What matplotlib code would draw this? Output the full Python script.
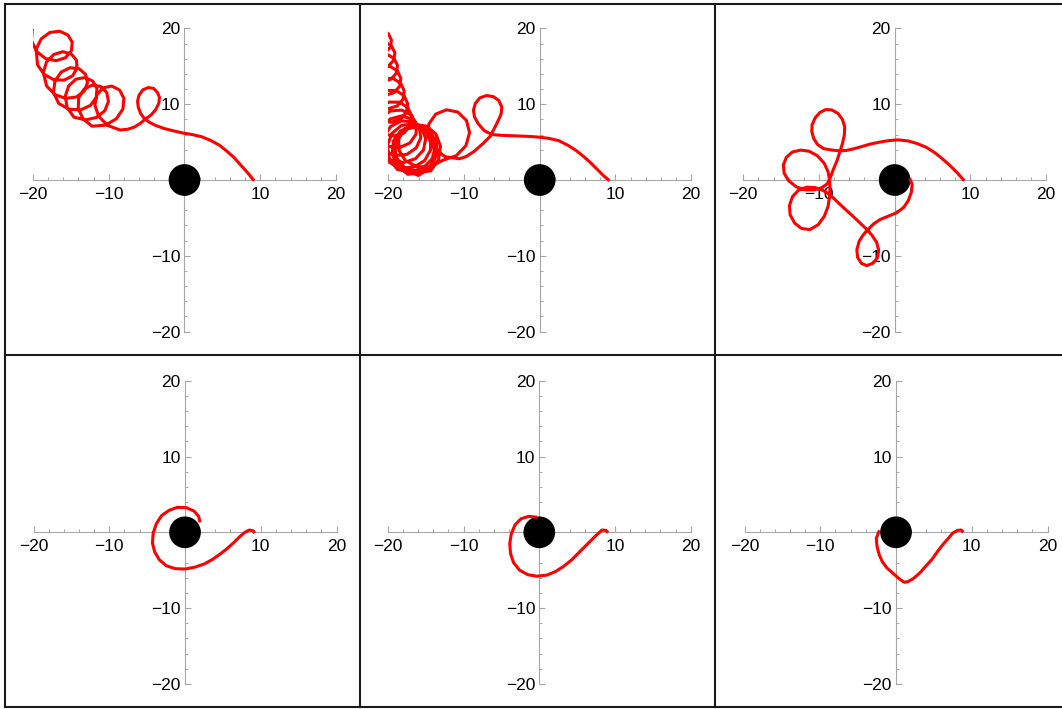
import matplotlib
matplotlib.use("Agg")
import matplotlib.pyplot as plt
from matplotlib.patches import Circle
from matplotlib.lines import Line2D

# ---------------- data ----------------
p1_x = [9.2, 8.3, 7.4, 6.5, 5.6, 4.6, 3.5, 2.3, 1.0, -0.2, -1.5, -2.7, -3.8, -4.6, -5.3,
        -5.8, -6.1, -6.2, -6.0, -5.5, -4.8, -4.1, -3.6, -3.3, -3.4, -3.8, -4.4, -5.1, -5.8, -6.6, -7.5, -8.5,
        -10.15, -11.33, -11.83, -11.57, -10.73, -9.60, -8.57, -8.00, -8.13, -8.99, -10.45, -12.2,
        -13.41, -14.03, -13.96, -13.27, -12.19, -11.07, -10.27, -10.04, -10.51, -11.61, -13.08, -14.6,
        -15.50, -15.74, -15.29, -14.33, -13.15, -12.12, -11.56, -11.65, -12.43, -13.72, -15.23, -16.6,
        -17.30, -17.09, -16.28, -15.11, -13.91, -13.06, -12.80, -13.23, -14.28, -15.69, -17.11, -18.2,
        -18.64, -18.21, -17.26, -16.06, -14.95, -14.26, -14.19, -14.78, -15.90, -17.27, -18.54, -19.4,
        -19.59, -18.92, -17.78, -16.48, -15.40, -14.82, -14.93, -15.70, -16.95, -18.34, -19.53, -20.2,
        -20.09, -19.35]
p1_y = [-0.1, 1.0, 2.0, 3.0, 3.8, 4.6, 5.2, 5.7, 6.0, 6.2, 6.5, 6.8, 7.2, 7.6, 8.1,
        8.8, 9.6, 10.4, 11.2, 11.9, 12.2, 12.1, 11.6, 10.9, 10.1, 9.3, 8.6, 8.1, 7.5, 7.0, 6.7, 6.6,
        7.20, 8.40, 9.88, 11.25, 12.17, 12.40, 11.88, 10.77, 9.38, 8.08, 7.24, 7.1,
        8.09, 9.47, 10.89, 11.99, 12.52, 12.35, 11.56, 10.38, 9.16, 8.26, 7.93, 8.3,
        9.58, 11.07, 12.42, 13.31, 13.53, 13.07, 12.09, 10.89, 9.84, 9.26, 9.34, 10.1,
        11.58, 13.08, 14.25, 14.82, 14.69, 13.95, 12.85, 11.74, 10.96, 10.77, 11.28, 12.4,
        14.19, 15.59, 16.57, 16.94, 16.64, 15.81, 14.73, 13.75, 13.18, 13.24, 13.96, 15.2,
        17.27, 18.63, 19.48, 19.64, 19.15, 18.18, 17.06, 16.15, 15.75, 16.03, 16.98, 18.4,
        19.91, 21.18]

p2_x = [9.2, 8.4, 7.6, 6.7, 5.8, 4.8, 3.7, 2.5, 1.2, 0.0, -1.3, -2.6, -3.9, -5.1, -6.3,
        -7.3, -8.1, -8.6, -8.75, -8.5, -7.9, -7.0, -6.1, -5.4, -5.0, -5.1, -5.5, -6.0, -6.5, -7.5, -8.7, -9.7, -10.6,
        -12.47, -13.96, -14.74, -14.63, -13.72, -12.30, -10.80, -9.67, -9.26, -9.74, -11.01, -12.8,
        -14.42, -16.21, -17.72, -18.58, -18.61, -17.82, -16.46, -14.94, -13.70, -13.10, -13.35, -14.4,
        -16.18, -17.82, -18.92, -19.21, -18.66, -17.45, -15.93, -14.56, -13.73, -13.70, -14.52, -16.0,
        -17.66, -18.82, -19.19, -18.71, -17.54, -16.02, -14.59, -13.67, -13.53, -14.24, -15.65, -17.4,
        -18.79, -19.47, -19.31, -18.36, -16.92, -15.41, -14.25, -13.80, -14.20, -15.38, -17.05, -18.8,
        -19.86, -20.11, -19.51, -18.26, -16.71, -15.30, -14.45, -14.40, -15.19, -16.65, -18.40, -20.0,
        -20.70, -20.58, -19.68, -18.28, -16.78, -15.58, -15.05, -15.34, -16.40, -17.97, -19.64, -21.0,
        -21.33, -20.86, -19.73, -18.26, -16.86, -15.91, -15.70, -16.29, -17.54, -19.13, -20.64, -21.7,
        -21.71, -20.97, -19.69, -18.22, -16.97, -16.27, -16.33, -17.14, -18.48, -20.02, -21.34, -22.1,
        -21.96, -21.15, -19.89, -18.52, -17.42, -16.88, -17.07, -17.92, -19.22, -20.63, -21.78, -22.35,
        -22.22, -21.45, -20.26, -18.97, -17.93, -17.43, -17.60, -18.41, -19.64, -20.98, -22.06, -22.6,
        -22.48, -21.74, -20.60, -19.36, -18.36, -17.88, -18.05, -18.82, -20.01, -21.29, -22.33, -22.85,
        -22.73, -22.03, -20.93, -19.74, -18.79, -18.33, -18.49, -19.24, -20.37, -21.6, -22.6, -23.1,
        -22.99, -22.31, -21.26, -20.13, -19.22, -18.77, -18.93, -19.65, -20.74, -21.91, -22.87, -23.35,
        -23.24, -22.58, -21.56, -20.45, -19.55, -19.12, -19.28, -19.98, -21.04, -22.19, -23.13, -23.6,
        -23.50, -22.87, -21.89, -20.83, -19.98, -19.57, -19.72, -20.39, -21.41, -22.51, -23.40, -23.85,
        -23.75, -23.16, -22.23, -21.22, -20.41, -20.02]
p2_y = [-0.1, 0.6, 1.4, 2.3, 3.1, 3.9, 4.6, 5.2, 5.5, 5.65, 5.75, 5.8, 5.85, 5.9, 6.0,
        6.5, 7.4, 8.3, 9.2, 10.1, 10.85, 11.15, 11.0, 10.5, 9.6, 8.7, 7.8, 6.8, 5.8, 4.8, 3.75, 3.1, 2.8,
        3.07, 4.15, 5.74, 7.41, 8.70, 9.27, 8.97, 7.86, 6.24, 4.54, 3.21, 2.6,
        1.75, 1.75, 2.55, 3.92, 5.46, 6.72, 7.34, 7.11, 6.07, 4.46, 2.70, 1.2,
        0.99, 1.63, 2.92, 4.52, 5.98, 6.89, 7.00, 6.27, 4.87, 3.17, 1.61, 0.6,
        1.21, 2.51, 4.16, 5.72, 6.77, 7.04, 6.45, 5.18, 3.55, 2.02, 0.99, 0.75,
        1.87, 3.48, 5.16, 6.49, 7.11, 6.88, 5.87, 4.37, 2.79, 1.58, 1.06, 1.4,
        2.84, 4.57, 6.16, 7.19, 7.43, 6.82, 5.55, 3.98, 2.56, 1.69, 1.62, 2.4,
        3.99, 5.69, 7.07, 7.80, 7.70, 6.83, 5.46, 3.97, 2.81, 2.30, 2.62, 3.7,
        5.35, 6.94, 8.06, 8.46, 8.05, 6.99, 5.58, 4.25, 3.38, 3.23, 3.89, 5.2,
        6.83, 8.26, 9.12, 9.23, 8.59, 7.41, 6.04, 4.89, 4.29, 4.45, 5.35, 6.8,
        8.33, 9.59, 10.29, 10.27, 9.58, 8.44, 7.19, 6.21, 5.80, 6.10, 7.08, 8.5,
        9.95, 11.15, 11.82, 11.81, 11.16, 10.09, 8.92, 8.01, 7.62, 7.92, 8.85, 10.2,
        11.60, 12.76, 13.41, 13.40, 12.79, 11.76, 10.65, 9.77, 9.41, 9.70, 10.59, 11.9,
        13.25, 14.37, 14.99, 14.99, 14.41, 13.43, 12.37, 11.53, 11.19, 11.48, 12.34, 13.6,
        14.90, 15.97, 16.58, 16.59, 16.03, 15.11, 14.09, 13.30, 12.98, 13.25, 14.09, 15.3,
        16.57, 17.63, 18.22, 18.23, 17.69, 16.79, 15.80, 15.03, 14.72, 14.99, 15.81, 17.0,
        18.22, 19.24, 19.81, 19.82, 19.32, 18.46, 17.52, 16.79, 16.50, 16.77, 17.56, 18.7,
        19.87, 20.84, 21.39, 21.42, 20.94, 20.13]

p3_x = [9.2, 8.3, 7.3, 6.3, 5.3, 4.2, 3.0, 1.8, 0.5, -0.8, -2.0, -3.2, -4.4, -5.5, -6.4, -7.2,
        -8.3, -9.4, -10.2, -10.7, -10.95, -10.9, -10.5, -9.9, -9.1, -8.3, -7.5, -6.9, -6.6, -6.65, -6.9, -7.2,
        -7.6, -8.1, -8.5, -8.9, -9.6, -10.6, -11.8, -13.0, -14.0, -14.6, -14.7, -14.3, -13.5, -12.4, -11.3,
        -10.2, -9.3, -8.8, -8.6, -8.55, -8.6, -8.8, -9.3, -10.1, -11.2, -12.3, -13.2, -13.8, -13.9, -13.5,
        -12.7, -11.6, -10.5, -9.5, -8.6, -7.6, -6.6, -5.6, -4.6, -3.6, -3.0, -2.4, -2.1, -2.3, -2.9, -3.7,
        -4.4, -4.9, -5.0, -4.7, -4.2, -3.6, -2.8, -1.9, -0.8, 0.3, 1.2, 1.8, 2.2, 2.3, 2.0]
p3_y = [-0.1, 0.9, 1.9, 2.8, 3.6, 4.3, 4.8, 5.15, 5.3, 5.2, 5.0, 4.75, 4.4, 4.1, 3.9, 3.85,
        3.95, 4.15, 4.7, 5.5, 6.4, 7.3, 8.2, 8.9, 9.3, 9.25, 8.8, 8.0, 7.0, 5.9, 4.8, 3.85,
        2.6, 1.4, 0.3, -0.5, -1.0, -1.3, -1.3, -0.9, -0.1, 0.9, 2.0, 3.0, 3.7, 3.95, 3.8,
        3.2, 2.2, 1.1, 0.0, -1.0, -2.2, -3.5, -4.8, -5.9, -6.55, -6.4, -5.7, -4.6, -3.4, -2.2,
        -1.35, -0.95, -1.0, -1.35, -1.9, -2.85, -3.8, -4.7, -5.65, -6.6, -7.3, -8.2, -9.3, -10.3, -11.0, -11.3,
        -11.0, -10.2, -9.2, -8.1, -7.3, -6.6, -5.8, -5.2, -4.75, -4.3, -3.6, -2.7, -1.6, -0.6, 0.2]

p4_x = [9.2, 9.0, 8.5, 7.9, 7.2, 6.4, 5.5, 4.6, 3.6, 2.5, 1.3, 0.0, -1.3, -2.5, -3.4, -4.0,
        -4.3, -4.2, -3.8, -3.1, -2.1, -1.0, 0.2, 1.2, 1.8, 2.0]
p4_y = [-0.1, 0.2, 0.3, 0.0, -0.6, -1.4, -2.2, -2.9, -3.6, -4.2, -4.6, -4.85, -4.8, -4.4, -3.6, -2.6,
        -1.4, -0.1, 1.1, 2.2, 2.9, 3.3, 3.25, 2.8, 2.1, 1.3]

p5_x = [9.1, 8.8, 8.3, 7.6, 6.8, 6.0, 5.1, 4.2, 3.2, 2.1, 1.0, -0.3, -1.5, -2.6, -3.4, -3.8,
        -3.9, -3.7, -3.2, -2.4, -1.4, -0.3]
p5_y = [-0.05, 0.25, 0.3, -0.3, -1.1, -1.9, -2.8, -3.7, -4.5, -5.2, -5.65, -5.8, -5.6, -5.0, -4.0, -2.8,
        -1.5, -0.2, 1.0, 1.8, 2.1, 2.0]

p6_x = [8.9, 8.6, 8.1, 7.5, 6.9, 6.2, 5.5, 4.8, 4.0, 3.1, 2.3, 1.6, 1.1, 0.5, -0.3, -1.2,
        -1.8, -2.2, -2.5, -2.6, -2.2]
p6_y = [0.0, 0.3, 0.25, -0.1, -0.8, -1.6, -2.5, -3.5, -4.4, -5.4, -6.1, -6.5, -6.6, -6.2, -5.5, -4.7,
        -3.9, -3.0, -1.9, -0.8, 0.25]

major_ticks = [-20, -10, 10, 20]
major_labels = ["\u221220", "\u221210", "10", "20"]
minor_ticks = [-18, -16, -14, -12, -8, -6, -4, -2, 2, 4, 6, 8, 12, 14, 16, 18]
disk_radius = 2.0

# ---------------- layout ----------------
W, H = 1062, 709
plt.rcParams['font.family'] = ['Liberation Sans', 'DejaVu Sans']
fig = plt.figure(figsize=(W / 100, H / 100), dpi=100)

scale = 7.575  # pixels per data unit
origins = [(184.5, 180.0), (539.7, 180.0), (894.7, 180.0),
           (185.0, 532.3), (539.3, 532.3), (896.0, 532.3)]
series = [(p1_x, p1_y), (p2_x, p2_y), (p3_x, p3_y),
          (p4_x, p4_y), (p5_x, p5_y), (p6_x, p6_y)]

axis_gray = '#a6a6a6'
for (ox, oy), (xs, ys) in zip(origins, series):
    left = (ox - 20 * scale) / W
    bottom = (H - (oy + 20 * scale)) / H
    ax = fig.add_axes([left, bottom, 40 * scale / W, 40 * scale / H])
    ax.set_xlim(-20, 20)
    ax.set_ylim(-20, 20)
    ax.patch.set_alpha(0)
    for s in ('top', 'right'):
        ax.spines[s].set_visible(False)
    for s in ('left', 'bottom'):
        ax.spines[s].set_position('zero')
        ax.spines[s].set_color(axis_gray)
        ax.spines[s].set_linewidth(0.8)
    ax.set_xticks(major_ticks)
    ax.set_xticklabels(major_labels)
    ax.set_yticks(major_ticks)
    ax.set_yticklabels(major_labels)
    ax.set_xticks(minor_ticks, minor=True)
    ax.set_yticks(minor_ticks, minor=True)
    ax.tick_params(which='major', direction='in', length=4, width=0.8, color=axis_gray,
                   labelsize=12.5, labelcolor='black')
    ax.tick_params(which='minor', direction='in', length=2.3, width=0.7, color=axis_gray)
    ax.tick_params(axis='x', which='major', pad=5)
    ax.tick_params(axis='y', which='major', pad=3)
    ax.add_patch(Circle((0, 0), disk_radius, color='black', zorder=3))
    ax.plot(xs, ys, color='#ff0000', lw=2.2, solid_joinstyle='round',
            solid_capstyle='butt', zorder=4)

# frame lines of the grid
frame_color = '#1a1a1a'
def hline(y):
    fig.add_artist(Line2D([5 / W, 1.0], [1 - y / H, 1 - y / H], color=frame_color, lw=1.5,
                          transform=fig.transFigure))
def vline(x):
    fig.add_artist(Line2D([x / W, x / W], [1 - 4 / H, 1 - 707 / H], color=frame_color, lw=1.5,
                          transform=fig.transFigure))
for y in (4, 355, 707):
    hline(y)
for x in (5, 360, 715):
    vline(x)

fig.savefig('out.png', dpi=100)
